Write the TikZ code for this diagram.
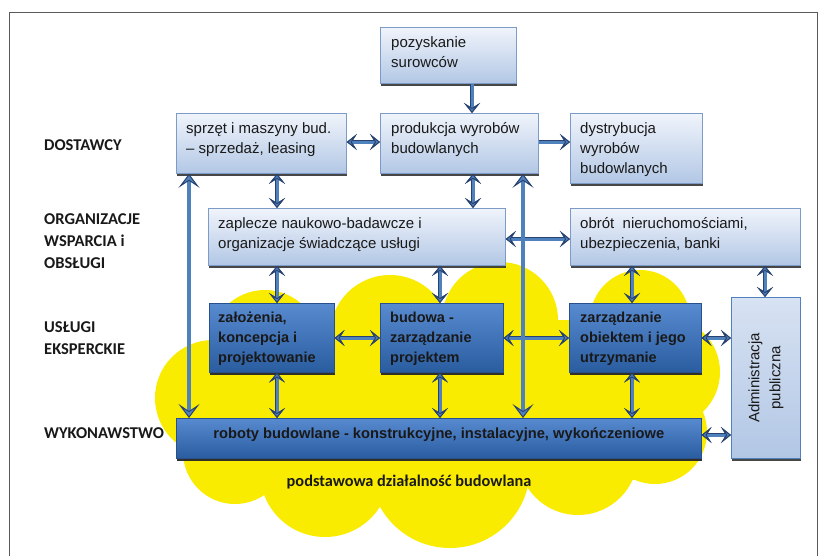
\documentclass[tikz,border=0pt]{standalone}
\usepackage{fontspec}
\setmainfont{Liberation Sans}
\newfontfamily\calfont{Carlito}
\usetikzlibrary{arrows.meta,shadows,calc}
\definecolor{arrblue}{RGB}{79,129,189}
\definecolor{arrdark}{RGB}{40,66,112}
\definecolor{ltop}{RGB}{240,244,251}
\definecolor{lbot}{RGB}{178,199,229}
\definecolor{lborder}{RGB}{125,155,200}
\definecolor{dtop}{RGB}{88,138,208}
\definecolor{dbot}{RGB}{42,92,160}
\definecolor{dborder}{RGB}{40,80,140}
\definecolor{cloudy}{RGB}{250,236,0}
\definecolor{framegray}{RGB}{90,90,90}
\tikzset{
  lbox/.style={draw=lborder, line width=0.8pt, top color=ltop, bottom color=lbot, anchor=north west, inner sep=0pt,
    drop shadow={shadow xshift=0.8pt, shadow yshift=-2.5pt, fill=black!80, opacity=0.9}},
  dbox/.style={draw=dborder, line width=0.6pt, top color=dtop, bottom color=dbot, anchor=north west, inner sep=0pt,
    drop shadow={shadow xshift=0.8pt, shadow yshift=-2.5pt, fill=black!85, opacity=0.95}},
  abox/.style={draw=arrblue, line width=0.9pt, top color=ltop!60!lbot, bottom color=lbot, anchor=north west, inner sep=0pt,
    drop shadow={shadow xshift=0.8pt, shadow yshift=-2.5pt, fill=black!80, opacity=0.9}},
  ltxt/.style={anchor=north west, inner sep=0pt, align=left, font=\fontsize{15}{20}\selectfont, text=black!90},
  dtxt/.style={anchor=north west, inner sep=0pt, align=left, font=\bfseries\fontsize{14.5}{20}\selectfont, text=black!90},
  lab/.style={anchor=west, inner sep=0pt, font=\calfont\bfseries\fontsize{16.5}{18}\selectfont, text=black!90},
  tipS/.tip={Stealth[length=10pt,width=16pt,inset=5pt,line width=1pt,color=arrdark,fill=arrblue]},
  tipL/.tip={Stealth[length=14pt,width=21pt,inset=7pt,line width=1pt,color=arrdark,fill=arrblue]},
  arr/.style={draw=arrblue, line width=3pt, tipS-tipS,
    preaction={draw=arrdark, line width=4.4pt}},
  arrone/.style={draw=arrblue, line width=3pt, -tipS,
    preaction={draw=arrdark, line width=4.4pt}},
  arrlong/.style={draw=arrblue, line width=3.8pt, tipL-tipL},
}
\begin{document}
\begin{tikzpicture}[x=1pt,y=-1pt]
\useasboundingbox (0,0) rectangle (828,555);
\fill[white] (0,0) rectangle (828,555);
% frame
\draw[framegray, line width=1pt] (9.5,556) -- (9.5,12) -- (817,12) -- (817,556);
% cloud
\begin{scope}
\fill[cloudy] (265,345) circle[radius=55];
\fill[cloudy] (213,398) circle[radius=58];
\fill[cloudy] (235,452) circle[radius=52];
\fill[cloudy] (325,472) circle[radius=65];
\fill[cloudy] (450,468) circle[radius=80];
\fill[cloudy] (578,455) circle[radius=60];
\fill[cloudy] (655,432) circle[radius=52];
\fill[cloudy] (665,372) circle[radius=55];
\fill[cloudy] (640,320) circle[radius=50];
\fill[cloudy] (500,320) circle[radius=58];
\fill[cloudy] (390,335) circle[radius=60];
\fill[cloudy] (250,320) rectangle (640,480);
\end{scope}
% left labels
\node[lab] (l1) at (44,145) {DOSTAWCY};
\node[lab] (l2) at (44,219) {ORGANIZACJE};
\node[lab] (l3) at (44,241) {WSPARCIA i};
\node[lab] (l4) at (44,263) {OBSŁUGI};
\node[lab] (l5) at (44,327) {USŁUGI};
\node[lab] (l6) at (44,349) {EKSPERCKIE};
\node[lab] (l7) at (44,433) {WYKONAWSTWO};
% boxes
\node[lbox, minimum width=136pt, minimum height=56pt] (poz) at (380,27) {};
\node[lbox, minimum width=158pt, minimum height=60pt] (prod) at (380,113) {};
\node[lbox, minimum width=170pt, minimum height=60pt] (sprz) at (176,113) {};
\node[lbox, minimum width=132pt, minimum height=70pt] (dyst) at (570,113) {};
\node[lbox, minimum width=297pt, minimum height=57pt] (zapl) at (208,208) {};
\node[lbox, minimum width=230pt, minimum height=57pt] (obrot) at (570,208) {};
\node[dbox, minimum width=125pt, minimum height=69pt] (zal) at (209,303) {};
\node[dbox, minimum width=123pt, minimum height=69pt] (bud) at (380,303) {};
\node[dbox, minimum width=132pt, minimum height=69pt] (zarz) at (569,303) {};
\node[abox, minimum width=69pt, minimum height=161pt] (adm) at (731,297) {};
\node[dbox, minimum width=525pt, minimum height=40pt] (rob) at (176,418) {};
% texts
\node[ltxt] (tpoz) at ($(poz.north west)+(11,9)$) {pozyskanie\\surowców};
\node[ltxt] (tprod) at ($(prod.north west)+(11,9)$) {produkcja wyrobów\\budowlanych};
\node[ltxt] (tsprz) at ($(sprz.north west)+(10,9)$) {sprzęt i maszyny bud.\\– sprzedaż, leasing};
\node[ltxt] (tdyst) at ($(dyst.north west)+(10,9)$) {dystrybucja\\wyrobów\\budowlanych};
\node[ltxt] (tzapl) at ($(zapl.north west)+(10,9)$) {zaplecze naukowo-badawcze i\\organizacje świadczące usługi};
\node[ltxt] (tobrot) at ($(obrot.north west)+(10,9)$) {obrót\ \ nieruchomościami,\\ubezpieczenia, banki};
\node[dtxt] (tzal) at ($(zal.north west)+(9,9)$) {założenia,\\koncepcja i\\projektowanie};
\node[dtxt] (tbud) at ($(bud.north west)+(10,9)$) {budowa -\\zarządzanie\\projektem};
\node[dtxt] (tzarz) at ($(zarz.north west)+(11,9)$) {zarządzanie\\obiektem i jego\\utrzymanie};
\node[inner sep=0pt, font=\bfseries\fontsize{14.7}{18}\selectfont, text=black!90] (trob) at ($(rob.center)+(0,-4)$) {roboty budowlane - konstrukcyjne, instalacyjne, wykończeniowe};
\node[inner sep=0pt, rotate=90, align=center, font=\fontsize{15}{21}\selectfont, text=black!90] (tadm) at (adm.center) {Administracja\\publiczna};
\node[inner sep=0pt, font=\calfont\bfseries\fontsize{16.3}{18}\selectfont, text=black!90] (tpod) at (409,482) {podstawowa działalność budowlana};
% short arrows
\draw[arrone] (poz.south -| 472,0) -- (prod.north -| 472,0);
\draw[arr] (sprz.east |- 0,142) -- (prod.west |- 0,142);
\draw[arrone] (prod.east |- 0,142) -- (dyst.west |- 0,142);
\draw[arr] (sprz.south -| 277,0) -- (zapl.north -| 277,0);
\draw[arr] (prod.south -| 473,0) -- (zapl.north -| 473,0);
\draw[arr] (zapl.east |- 0,239) -- (obrot.west |- 0,239);
\draw[arr] (zapl.south -| 277,0) -- (zal.north -| 277,0);
\draw[arr] (zapl.south -| 440,0) -- (bud.north -| 440,0);
\draw[arr] (obrot.south -| 632,0) -- (zarz.north -| 632,0);
\draw[arr] (obrot.south -| 765,0) -- (adm.north -| 765,0);
\draw[arr] (zal.east |- 0,338) -- (bud.west |- 0,338);
\draw[arr] (bud.east |- 0,338) -- (zarz.west |- 0,338);
\draw[arr] (zarz.east |- 0,338) -- (adm.west |- 0,338);
\draw[arr] (zal.south -| 277,0) -- (rob.north -| 277,0);
\draw[arr] (bud.south -| 440,0) -- (rob.north -| 440,0);
\draw[arr] (zarz.south -| 632,0) -- (rob.north -| 632,0);
\draw[arr] (rob.east |- 0,435) -- (adm.west |- 0,435);
% long arrows
\draw[arrlong] (sprz.south -| 189,0) -- (rob.north -| 189,0);
\draw[arrlong] (prod.south -| 523,0) -- (rob.north -| 523,0);
\end{tikzpicture}
\end{document}
